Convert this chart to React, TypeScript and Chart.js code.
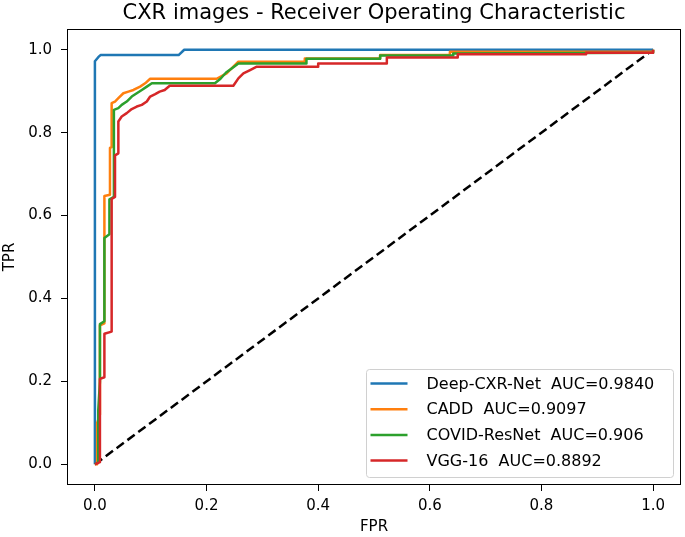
import { useEffect, useRef } from "react";
import { Chart, registerables } from "chart.js";

Chart.register(...registerables);

const FONT = "'DejaVu Sans', sans-serif";

const tickValues = [0, 0.2, 0.4, 0.6, 0.8, 1.0];
const seriesNames = ["Deep-CXR-Net", "CADD", "COVID-ResNet", "VGG-16"];
const aucValues = ["0.9840", "0.9097", "0.906", "0.8892"];
const seriesColors = ["#1f77b4", "#ff7f0e", "#2ca02c", "#d62728"];

const deepCxrFpr = [0, 0, 0.006, 0.01, 0.15, 0.16, 1.0];
const deepCxrTpr = [0, 0.972, 0.982, 0.987, 0.987, 1.0, 1.0];

const caddFpr = [0, 0.004, 0.004, 0.009, 0.009, 0.017, 0.017, 0.027, 0.027, 0.03, 0.03, 0.036, 0.042, 0.051, 0.06, 0.069, 0.081, 0.09, 0.099, 0.218, 0.236, 0.248, 0.257, 0.376, 0.376, 0.511, 0.511, 0.636, 0.636, 1.0, 1.0];
const caddTpr = [0, 0, 0.1, 0.12, 0.335, 0.34, 0.647, 0.65, 0.763, 0.765, 0.871, 0.875, 0.883, 0.895, 0.899, 0.903, 0.911, 0.919, 0.93, 0.93, 0.943, 0.959, 0.971, 0.971, 0.979, 0.979, 0.987, 0.987, 0.995, 0.995, 1.0];

const resNetFpr = [0, 0.006, 0.006, 0.009, 0.009, 0.017, 0.017, 0.026, 0.026, 0.034, 0.034, 0.042, 0.048, 0.057, 0.066, 0.075, 0.084, 0.093, 0.102, 0.215, 0.225, 0.235, 0.245, 0.257, 0.379, 0.379, 0.511, 0.511, 0.642, 0.642, 1.0, 1.0];
const resNetTpr = [0, 0.005, 0.13, 0.2, 0.338, 0.345, 0.546, 0.555, 0.639, 0.645, 0.855, 0.859, 0.867, 0.875, 0.887, 0.895, 0.903, 0.911, 0.919, 0.919, 0.93, 0.945, 0.955, 0.967, 0.967, 0.978, 0.978, 0.986, 0.986, 0.991, 0.993, 1.0];

const vggFpr = [0, 0.009, 0.009, 0.017, 0.017, 0.03, 0.03, 0.036, 0.036, 0.042, 0.042, 0.048, 0.057, 0.066, 0.075, 0.084, 0.093, 0.099, 0.108, 0.116, 0.125, 0.134, 0.248, 0.257, 0.266, 0.278, 0.29, 0.4, 0.4, 0.523, 0.523, 0.65, 0.65, 0.88, 0.88, 1.0, 1.0];
const vggTpr = [0, 0.005, 0.206, 0.21, 0.315, 0.32, 0.64, 0.645, 0.745, 0.75, 0.827, 0.839, 0.847, 0.857, 0.863, 0.867, 0.875, 0.887, 0.893, 0.899, 0.903, 0.913, 0.913, 0.931, 0.943, 0.951, 0.959, 0.959, 0.967, 0.967, 0.981, 0.981, 0.989, 0.989, 0.993, 0.993, 1.0];

const chanceFpr = [0, 1];
const chanceTpr = [0, 1];

const seriesFpr = [deepCxrFpr, caddFpr, resNetFpr, vggFpr];
const seriesTpr = [deepCxrTpr, caddTpr, resNetTpr, vggTpr];

const toPoints = (xs: number[], ys: number[]) => xs.map((x, i) => ({ x, y: ys[i] }));

const framePlugin = {
  id: "frameLegendTitle",
  afterDraw(chart: any) {
    const ctx = chart.ctx as CanvasRenderingContext2D;
    const a = chart.chartArea;
    ctx.save();
    // frame
    ctx.strokeStyle = "#000";
    ctx.lineWidth = 1;
    ctx.strokeRect(Math.round(a.left) + 0.5, Math.round(a.top) + 0.5, Math.round(a.right - a.left) - 1, Math.round(a.bottom - a.top) - 1);
    // title
    ctx.fillStyle = "#000";
    ctx.font = `21px ${FONT}`;
    ctx.textAlign = "center";
    ctx.textBaseline = "alphabetic";
    ctx.fillText("CXR images - Receiver Operating Characteristic", (a.left + a.right) / 2, 19);
    // legend
    const bw = 307;
    const bh = 108;
    const bx = Math.round(a.right - 8 - bw) + 0.5;
    const by = Math.round(a.bottom - 8 - bh) + 0.5;
    ctx.beginPath();
    (ctx as any).roundRect(bx, by, bw, bh, 3);
    ctx.fillStyle = "rgba(255,255,255,0.8)";
    ctx.fill();
    ctx.strokeStyle = "#d0d0d0";
    ctx.lineWidth = 1;
    ctx.stroke();
    ctx.font = `16px ${FONT}`;
    ctx.textAlign = "left";
    ctx.textBaseline = "middle";
    seriesNames.forEach((name, i) => {
      const y = by + 14 + i * 25.7;
      ctx.beginPath();
      ctx.moveTo(bx + 4, y);
      ctx.lineTo(bx + 41, y);
      ctx.strokeStyle = seriesColors[i];
      ctx.lineWidth = 2.5;
      ctx.stroke();
      ctx.fillStyle = "#000";
      ctx.fillText(`${name}  AUC=${aucValues[i]}`, bx + 60, y + 1);
    });
    ctx.restore();
  },
};

export default function App() {
  const ref = useRef<HTMLCanvasElement>(null);
  useEffect(() => {
    const datasets: any[] = seriesNames.map((name, i) => ({
      label: name,
      data: toPoints(seriesFpr[i], seriesTpr[i]),
      borderColor: seriesColors[i],
      backgroundColor: seriesColors[i],
      borderWidth: 2.5,
      showLine: true,
      pointRadius: 0,
      tension: 0,
      fill: false,
      borderJoinStyle: "round",
      order: 5 - i,
    }));
    datasets.push({
      label: "chance",
      data: toPoints(chanceFpr, chanceTpr),
      borderColor: "#000",
      borderWidth: 2.5,
      borderDash: [9, 4.5],
      showLine: true,
      pointRadius: 0,
      fill: false,
      order: 6,
    });
    const axisCommon = (title: string, titlePad: any, tickPad: number) => ({
      type: "linear" as const,
      min: -0.05,
      max: 1.05,
      afterBuildTicks: (s: any) => {
        s.ticks = tickValues.map((v) => ({ value: v }));
      },
      grid: { display: true, drawOnChartArea: false, drawTicks: true, tickLength: 6, color: "#000", lineWidth: 1 },
      border: { display: false },
      ticks: {
        padding: tickPad,
        color: "#000",
        font: { family: FONT, size: 15 },
        autoSkip: false,
        maxRotation: 0,
        callback: (v: any) => Number(v).toFixed(1),
      },
      title: { display: true, text: title, color: "#000", font: { family: FONT, size: 15 }, padding: titlePad },
    });
    const chart = new Chart(ref.current!, {
      type: "scatter",
      data: { datasets },
      options: {
        responsive: false,
        animation: false,
        devicePixelRatio: 1,
        events: [],
        layout: { padding: { top: 29, right: 4, left: 0, bottom: 0 } },
        plugins: { legend: { display: false }, title: { display: false }, tooltip: { enabled: false } },
        scales: {
          x: { ...axisCommon("FPR", { top: 0, bottom: 1 }, 6), afterFit: (s: any) => { s.height = 52; } },
          y: { ...axisCommon("TPR", { top: 1, bottom: 0 }, 9), afterFit: (s: any) => { s.width = 67; } },
        },
      } as any,
      plugins: [framePlugin],
    });
    return () => chart.destroy();
  }, []);
  return (
    <div style={{ position: "fixed", left: 0, top: 0, width: 685, height: 537, background: "#fff" }}>
      <canvas ref={ref} width={685} height={537} style={{ display: "block", width: 685, height: 537 }} />
    </div>
  );
}
